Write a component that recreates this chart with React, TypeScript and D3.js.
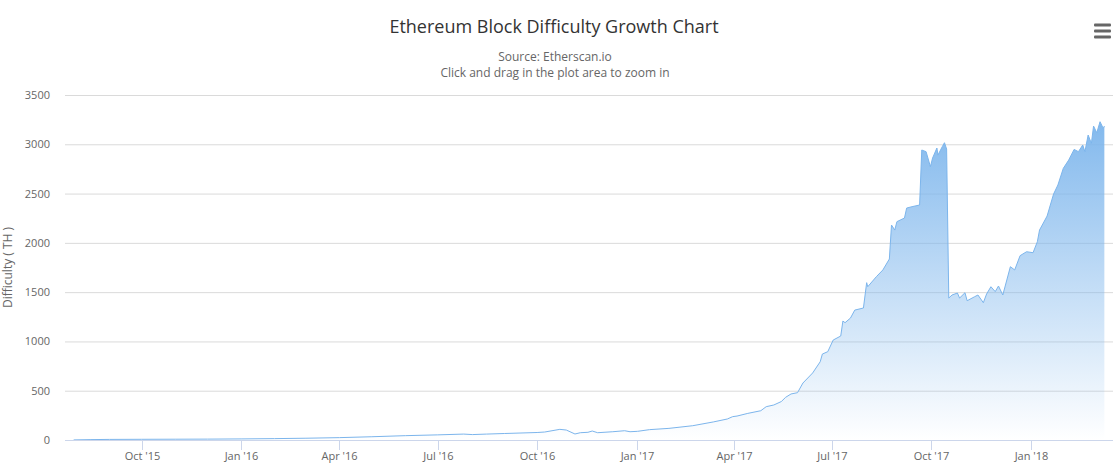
import React from "react";
import * as d3 from "d3";

// difficulty in TH
const difficultySeries: [string, number][] = [
  ["2015-07-30", 1],
  ["2015-08-15", 4],
  ["2015-09-01", 6],
  ["2015-10-01", 7],
  ["2015-11-01", 8],
  ["2015-12-01", 9],
  ["2016-01-01", 11],
  ["2016-02-01", 14],
  ["2016-03-01", 18],
  ["2016-04-01", 24],
  ["2016-05-01", 33],
  ["2016-06-01", 44],
  ["2016-07-01", 52],
  ["2016-07-25", 60],
  ["2016-08-02", 55],
  ["2016-08-15", 60],
  ["2016-09-01", 66],
  ["2016-10-01", 76],
  ["2016-10-08", 81],
  ["2016-10-22", 108],
  ["2016-10-28", 101],
  ["2016-11-05", 61],
  ["2016-11-10", 74],
  ["2016-11-17", 78],
  ["2016-11-21", 91],
  ["2016-11-26", 74],
  ["2016-12-10", 84],
  ["2016-12-21", 94],
  ["2016-12-26", 84],
  ["2017-01-02", 88],
  ["2017-01-13", 105],
  ["2017-01-31", 118],
  ["2017-02-22", 145],
  ["2017-03-13", 183],
  ["2017-03-26", 213],
  ["2017-03-31", 237],
  ["2017-04-04", 243],
  ["2017-04-14", 270],
  ["2017-04-26", 297],
  ["2017-05-01", 338],
  ["2017-05-08", 355],
  ["2017-05-15", 390],
  ["2017-05-19", 433],
  ["2017-05-24", 467],
  ["2017-05-30", 480],
  ["2017-06-04", 578],
  ["2017-06-13", 680],
  ["2017-06-20", 794],
  ["2017-06-22", 872],
  ["2017-06-27", 896],
  ["2017-07-02", 1014],
  ["2017-07-09", 1055],
  ["2017-07-11", 1207],
  ["2017-07-13", 1190],
  ["2017-07-18", 1237],
  ["2017-07-22", 1318],
  ["2017-07-30", 1339],
  ["2017-08-02", 1596],
  ["2017-08-03", 1555],
  ["2017-08-11", 1657],
  ["2017-08-17", 1725],
  ["2017-08-23", 1836],
  ["2017-08-25", 2181],
  ["2017-08-28", 2130],
  ["2017-08-30", 2215],
  ["2017-09-06", 2252],
  ["2017-09-08", 2353],
  ["2017-09-13", 2367],
  ["2017-09-20", 2384],
  ["2017-09-22", 2942],
  ["2017-09-26", 2925],
  ["2017-09-30", 2773],
  ["2017-10-02", 2860],
  ["2017-10-06", 2962],
  ["2017-10-07", 2891],
  ["2017-10-11", 2976],
  ["2017-10-13", 3016],
  ["2017-10-15", 2952],
  ["2017-10-17", 1440],
  ["2017-10-20", 1471],
  ["2017-10-25", 1491],
  ["2017-10-27", 1440],
  ["2017-11-01", 1494],
  ["2017-11-03", 1413],
  ["2017-11-10", 1454],
  ["2017-11-13", 1471],
  ["2017-11-18", 1393],
  ["2017-11-21", 1481],
  ["2017-11-25", 1555],
  ["2017-11-29", 1505],
  ["2017-12-02", 1562],
  ["2017-12-06", 1471],
  ["2017-12-13", 1758],
  ["2017-12-17", 1725],
  ["2017-12-22", 1870],
  ["2017-12-28", 1910],
  ["2018-01-03", 1900],
  ["2018-01-07", 2012],
  ["2018-01-09", 2130],
  ["2018-01-16", 2272],
  ["2018-01-19", 2384],
  ["2018-01-22", 2495],
  ["2018-01-26", 2587],
  ["2018-01-31", 2756],
  ["2018-02-05", 2840],
  ["2018-02-10", 2948],
  ["2018-02-14", 2925],
  ["2018-02-18", 2993],
  ["2018-02-20", 2925],
  ["2018-02-23", 3094],
  ["2018-02-26", 3009],
  ["2018-02-28", 3185],
  ["2018-03-03", 3117],
  ["2018-03-06", 3229],
  ["2018-03-09", 3161],
  ["2018-03-10", 3185],
];

const xTickDates = [
  "2015-10-01", "2016-01-01", "2016-04-01", "2016-07-01", "2016-10-01",
  "2017-01-01", "2017-04-01", "2017-07-01", "2017-10-01", "2018-01-01",
];
const xTickLabels = [
  "Oct '15", "Jan '16", "Apr '16", "Jul '16", "Oct '16",
  "Jan '17", "Apr '17", "Jul '17", "Oct '17", "Jan '18",
];
const yTicks = [0, 500, 1000, 1500, 2000, 2500, 3000, 3500];

const width = 1113;
const height = 475;
const plotLeft = 65;
const plotRight = 1113;
const plotTop = 95;
const plotBottom = 440;
const font = "'Open Sans', 'Noto Sans', sans-serif";
const lineColor = "#7cb5ec";

export default function App() {
  const parse = d3.utcParse("%Y-%m-%d");
  const data = difficultySeries.map(([d, v]) => ({ date: parse(d)!, value: v }));

  const x = d3
    .scaleUtc()
    .domain([parse("2015-07-22")!, parse("2018-03-18")!])
    .range([plotLeft, plotRight]);
  const y = d3.scaleLinear().domain([0, 3500]).range([plotBottom, plotTop]);

  const area = d3
    .area<{ date: Date; value: number }>()
    .x((d) => x(d.date))
    .y0(y(0))
    .y1((d) => y(d.value));
  const line = d3
    .line<{ date: Date; value: number }>()
    .x((d) => x(d.date))
    .y((d) => y(d.value));

  const maxVal = d3.max(data, (d) => d.value) ?? 0;

  return (
    <svg
      width={width}
      height={height}
      style={{ position: "absolute", left: 0, top: 0, background: "#fff" }}
      fontFamily={font}
    >
      <defs>
        <linearGradient
          id="areaFill"
          gradientUnits="userSpaceOnUse"
          x1={0}
          y1={y(maxVal)}
          x2={0}
          y2={y(0)}
        >
          <stop offset="0%" stopColor={lineColor} stopOpacity={0.95} />
          <stop offset="100%" stopColor={lineColor} stopOpacity={0} />
        </linearGradient>
      </defs>

      {/* titles */}
      <text x={554} y={33} textAnchor="middle" fontSize={18} fill="#333">
        Ethereum Block Difficulty Growth Chart
      </text>
      <text x={555} y={61} textAnchor="middle" fontSize={12} fill="#666">
        Source: Etherscan.io
      </text>
      <text x={555} y={77} textAnchor="middle" fontSize={12} fill="#666">
        Click and drag in the plot area to zoom in
      </text>

      {/* export menu icon */}
      <g fill="#666">
        {[25, 31, 37].map((cy) => (
          <rect key={cy} x={1094} y={cy - 1.5} width={17} height={3} rx={1} />
        ))}
      </g>

      {/* grid */}
      {yTicks.map((t) => (
        <g key={t}>
          {t > 0 && (
            <line
              x1={plotLeft}
              x2={plotRight}
              y1={y(t) + 0.5}
              y2={y(t) + 0.5}
              stroke="#dadada"
            />
          )}
          <text
            x={50}
            y={y(t) + 4}
            textAnchor="end"
            fontSize={11}
            fill="#666"
          >
            {t}
          </text>
        </g>
      ))}

      <text
        transform={`translate(12,${(plotTop + plotBottom) / 2}) rotate(-90)`}
        textAnchor="middle"
        fontSize={12}
        fill="#666"
      >
        Difficulty ( TH )
      </text>

      {/* series */}
      <path d={area(data) ?? ""} fill="url(#areaFill)" />
      <path d={line(data) ?? ""} fill="none" stroke={lineColor} strokeWidth={1} />

      {/* x axis */}
      <line
        x1={plotLeft}
        x2={plotRight}
        y1={plotBottom + 0.5}
        y2={plotBottom + 0.5}
        stroke="#ccd6eb"
      />
      {xTickDates.map((d, i) => {
        const px = Math.round(x(parse(d)!)) + 0.5;
        return (
          <g key={d}>
            <line x1={px} x2={px} y1={plotBottom} y2={plotBottom + 10} stroke="#ccd6eb" />
            <text x={px} y={plotBottom + 20} textAnchor="middle" fontSize={11} fill="#666">
              {xTickLabels[i]}
            </text>
          </g>
        );
      })}
    </svg>
  );
}
